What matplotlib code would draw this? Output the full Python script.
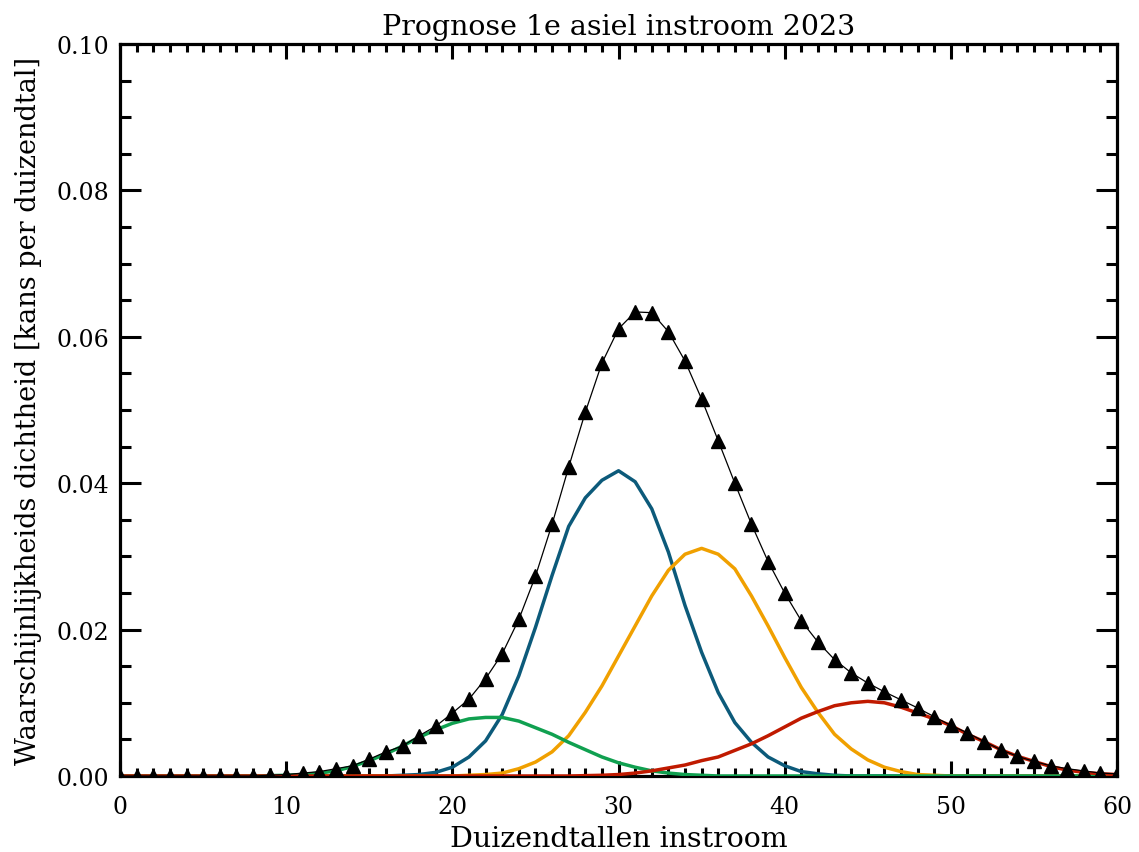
import matplotlib
matplotlib.use("Agg")
import matplotlib.pyplot as plt
from matplotlib.ticker import MultipleLocator

plt.rcParams['font.family'] = ['DejaVu Serif']

# x: duizendtallen instroom (0..60)
x = list(range(0, 61))

# totaal (zwarte driehoeken)
totaal = [0.0, 0.0, 0.0, 0.0, 0.0, 0.0, 0.0, 0.0, 0.0, 0.0001,
          0.0002, 0.0004, 0.0006, 0.0010, 0.0014, 0.0023, 0.0033, 0.0041, 0.0055, 0.0068,
          0.0086, 0.0105, 0.0133, 0.0167, 0.0214, 0.0273, 0.0344, 0.0422, 0.0497, 0.0564,
          0.0611, 0.0634, 0.0633, 0.0607, 0.0567, 0.0515, 0.0458, 0.0400, 0.0344, 0.0293,
          0.0250, 0.0212, 0.0183, 0.0159, 0.0141, 0.0127, 0.0115, 0.0104, 0.0093, 0.0081,
          0.0069, 0.0059, 0.0047, 0.0036, 0.0027, 0.0020, 0.0014, 0.0010, 0.0007, 0.0004,
          0.0003]

# componenten
blauw = [0.0] * 17 + [0.0001, 0.0002, 0.0005,
         0.0012, 0.0026, 0.0048, 0.0084, 0.0137, 0.0203, 0.0274, 0.0341, 0.0380, 0.0404,
         0.0417, 0.0402, 0.0365, 0.0306, 0.0233, 0.0169, 0.0114, 0.0073, 0.0046, 0.0026,
         0.0014, 0.0006, 0.0003, 0.0001] + [0.0] * 17

oranje = [0.0] * 21 + [0.0001,
          0.0002, 0.0004, 0.0010, 0.0019, 0.0033, 0.0055, 0.0087, 0.0123,
          0.0164, 0.0205, 0.0246, 0.0281, 0.0303, 0.0311, 0.0303, 0.0283, 0.0246, 0.0205,
          0.0162, 0.0121, 0.0087, 0.0057, 0.0037, 0.0022, 0.0012, 0.0006, 0.0002, 0.0001] + [0.0] * 11

groen = [0.0] * 9 + [0.00005,
         0.0001, 0.0002, 0.0004, 0.0007, 0.0013, 0.0021, 0.0030, 0.0041, 0.0053, 0.0063,
         0.0072, 0.0078, 0.0080, 0.0080, 0.0075, 0.0066, 0.0057, 0.0046, 0.0036, 0.0026,
         0.0018, 0.0012, 0.0007, 0.0004, 0.0002, 0.0001] + [0.0] * 25

rood = [0.0] * 28 + [0.00005, 0.0001,
        0.0002, 0.0004, 0.0007, 0.0011, 0.0015, 0.0021, 0.0026, 0.0035, 0.0044, 0.0055,
        0.0067, 0.0079, 0.0088, 0.0096, 0.0100, 0.0102, 0.0100, 0.0094, 0.0086, 0.0078,
        0.0069, 0.0057, 0.0047, 0.0036, 0.0027, 0.0020, 0.0013, 0.0008, 0.0005, 0.0003,
        0.0002]

fig = plt.figure(figsize=(11.39, 8.53), dpi=100)
ax = fig.add_axes([0.1054, 0.0891, 0.8753, 0.8581])

ax.plot(x, totaal, color='black', lw=0.9, marker='^', ms=10, mec='black', mfc='black', zorder=5)
ax.plot(x, blauw, color='#0c5a7a', lw=2.5, zorder=3)
ax.plot(x, oranje, color='#f0a000', lw=2.5, zorder=3)
ax.plot(x, groen, color='#10a050', lw=2.5, zorder=3)
ax.plot(x, rood, color='#c01a00', lw=2.5, zorder=4)

ax.set_xlim(0, 60)
ax.set_ylim(0, 0.10)
ax.xaxis.set_major_locator(MultipleLocator(10))
ax.xaxis.set_minor_locator(MultipleLocator(1))
ax.yaxis.set_major_locator(MultipleLocator(0.02))
ax.yaxis.set_minor_locator(MultipleLocator(0.005))
ax.yaxis.set_major_formatter(plt.FormatStrFormatter('%.2f'))

ax.tick_params(which='both', direction='in', top=True, right=True, width=2.2, labelsize=17)
ax.tick_params(axis='x', which='major', length=11, pad=14)
ax.tick_params(axis='x', which='minor', length=5.5)
ax.tick_params(axis='y', which='major', length=15, pad=8)
ax.tick_params(axis='y', which='minor', length=8)
for s in ax.spines.values():
    s.set_linewidth(2.3)

ax.set_title('Prognose 1e asiel instroom 2023', fontsize=20.5, pad=7)
ax.set_xlabel('Duizendtallen instroom', fontsize=20.5, labelpad=5)
ax.set_ylabel('Waarschijnlijkheids dichtheid [kans per duizendtal]', fontsize=19.5, labelpad=10)

fig.savefig('out.png', dpi=100)
